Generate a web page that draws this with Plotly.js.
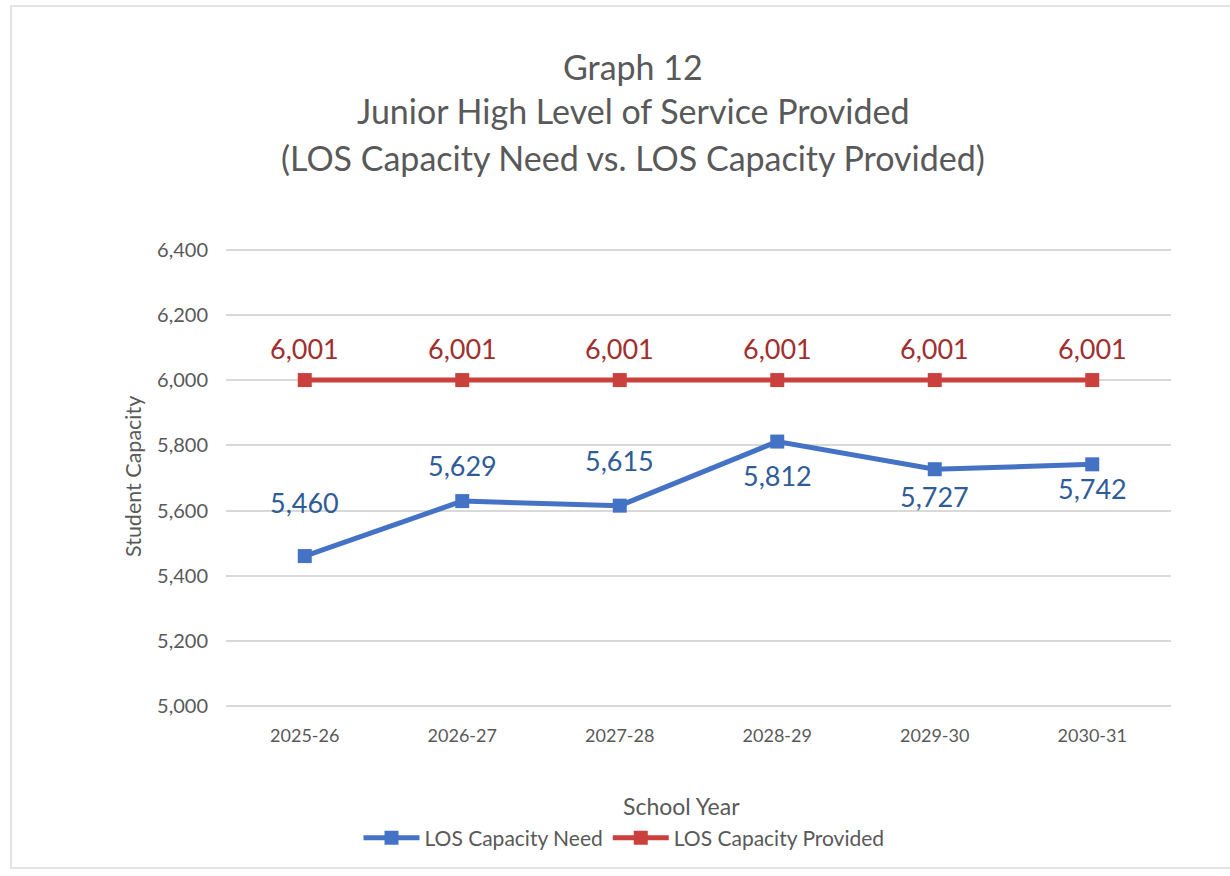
<!DOCTYPE html>
<html><head><meta charset="utf-8">
<script src="https://cdn.plot.ly/plotly-3.0.1.min.js"></script>
<style>
html,body{margin:0;padding:0;background:#fff;}
#wrap{position:relative;width:1230px;height:876px;}
#chart{position:absolute;left:0;top:0;width:1230px;height:876px;}
#frame{position:absolute;left:10px;top:5px;width:1225px;height:864px;border:2px solid #e3e3e3;pointer-events:none;box-sizing:border-box;}
</style></head>
<body><div id="wrap"><div id="chart"></div><div id="frame"></div></div>
<script>
const years = ["2025-26","2026-27","2027-28","2028-29","2029-30","2030-31"];
const capacityNeed = [5460, 5629, 5615, 5812, 5727, 5742];
const capacityProvided = [6001, 6001, 6001, 6001, 6001, 6001];
const seriesNames = ["LOS Capacity Need", "LOS Capacity Provided"];
const titleLines = ["Graph 12", "Junior High Level of Service Provided", "(LOS Capacity Need vs. LOS Capacity Provided)"];
const yTicks = [5000, 5200, 5400, 5600, 5800, 6000, 6200, 6400];
// label offsets (pixels, negative = above the point)
const needLabelShift = [-54, -36, -45, 34, 27, 24];
const providedLabelShift = [-32, -32, -32, -32, -32, -32];

const FONT = "Lato, 'Open Sans', sans-serif";
const fmt = v => v.toLocaleString("en-US");

const traces = [
  {
    x: years, y: capacityNeed, name: seriesNames[0], type: "scatter",
    mode: "lines+markers",
    line: {color: "#4472C4", width: 5},
    marker: {symbol: "square", size: 14, color: "#4472C4"},
    cliponaxis: false
  },
  {
    x: years, y: capacityProvided, name: seriesNames[1], type: "scatter",
    mode: "lines+markers",
    line: {color: "#C9403D", width: 5},
    marker: {symbol: "square", size: 14, color: "#C9403D"},
    cliponaxis: false
  }
];

// plot area in pixels: left 226, right 1171, top 247, bottom 709 (range 4990..6410)
const PL = 226, PW = 945, PB = 709, PH = 462;
const px = x => (x - PL) / PW;
const py = y => (PB - y) / PH;

const annotations = [];
years.forEach((yr, i) => {
  annotations.push({
    x: yr, y: capacityNeed[i], xref: "x", yref: "y",
    text: fmt(capacityNeed[i]), showarrow: false,
    xanchor: "center", yanchor: "middle", yshift: -needLabelShift[i],
    font: {family: FONT, size: 27, color: "#2F5C97"}
  });
  annotations.push({
    x: yr, y: capacityProvided[i], xref: "x", yref: "y",
    text: fmt(capacityProvided[i]), showarrow: false,
    xanchor: "center", yanchor: "middle", yshift: -providedLabelShift[i],
    font: {family: FONT, size: 27, color: "#A03030"}
  });
});
const titleY = [66, 110, 157];
titleLines.forEach((t, i) => annotations.push({
  text: t, xref: "paper", yref: "paper",
  x: px(633), y: py(titleY[i]),
  xanchor: "center", yanchor: "middle", showarrow: false,
  font: {family: FONT, size: 34, color: "#595959"}
}));
annotations.push({
  text: "School Year", xref: "paper", yref: "paper",
  x: px(681), y: py(806),
  xanchor: "center", yanchor: "middle", showarrow: false,
  font: {family: FONT, size: 23, color: "#595959"}
});
annotations.push({
  text: "Student Capacity", xref: "paper", yref: "paper",
  x: px(133), y: py(477), textangle: -90,
  xanchor: "center", yanchor: "middle", showarrow: false,
  font: {family: FONT, size: 21.5, color: "#595959"}
});

const layout = {
  width: 1230, height: 876,
  margin: {l: 226, r: 59, t: 247, b: 167},
  paper_bgcolor: "#ffffff", plot_bgcolor: "#ffffff",
  showlegend: true,
  legend: {
    orientation: "h", x: px(624), xanchor: "center",
    y: py(838), yanchor: "middle",
    font: {family: FONT, size: 21, color: "#595959"},
    itemwidth: 56, tracegroupgap: 0
  },
  xaxis: {
    type: "category", range: [-0.5, 5.5],
    showgrid: false, zeroline: false, showline: false,
    ticks: "", tickfont: {family: FONT, size: 18, color: "#595959"},
    ticklabelstandoff: 14
  },
  yaxis: {
    range: [4990, 6410], tickvals: yTicks,
    tickformat: ",d", showgrid: true, gridcolor: "#d9d9d9", gridwidth: 2,
    zeroline: false, showline: false, ticks: "",
    tickfont: {family: FONT, size: 20, color: "#595959"},
    ticklabelstandoff: 17
  },
  annotations: annotations
};

Plotly.newPlot("chart", traces, layout, {displayModeBar: false, staticPlot: true});
</script></body></html>
